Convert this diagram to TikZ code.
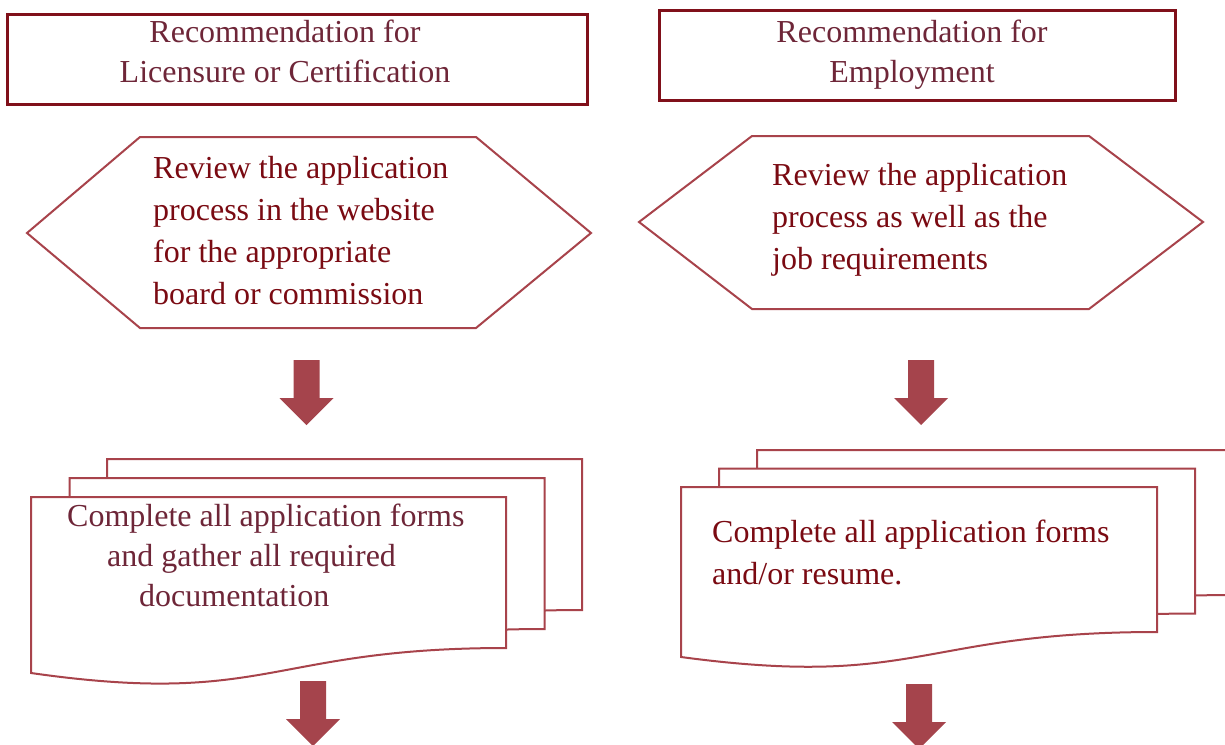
\documentclass[tikz,border=0pt]{standalone}
\usepackage{fontspec}
\setmainfont{Liberation Serif}
\definecolor{boxline}{RGB}{128,16,26}
\definecolor{toptext}{RGB}{110,38,56}
\definecolor{shapeline}{RGB}{168,67,75}
\definecolor{redtext}{RGB}{122,10,18}
\definecolor{arrowfill}{RGB}{165,68,76}
\tikzset{
  topbox/.style={draw=boxline, line width=3pt, fill=white, inner sep=0pt},
  txt/.style={inner sep=0pt, font=\fontsize{32}{42}\selectfont},
  toptxt/.style={txt, text=toptext, align=center, font=\fontsize{32}{40}\selectfont},
  hextxt/.style={txt, text=redtext, align=left},
  hexline/.style={draw=shapeline, line width=2pt, fill=white, line join=miter},
  sheet/.style={draw=shapeline, line width=2pt, fill=white},
  blockarrow/.style={fill=arrowfill},
  docL/.pic={\draw[sheet] (0,0) -- (475,0) -- (475,151) .. controls (237.5,151) and (237.5,210) .. (0,176) -- cycle;},
  docR/.pic={\draw[sheet] (0,0) -- (476,0) -- (476,145) .. controls (238,145) and (238,202) .. (0,170) -- cycle;},
  downarrow/.pic={\fill[blockarrow] (-13,0) -- (13,0) -- (13,38) -- (27,38) -- (0,65) -- (-27,38) -- (-13,38) -- cycle;}
}
\begin{document}
\begin{tikzpicture}[x=1pt,y=-1pt]
\useasboundingbox (0,0) rectangle (1225,744);
\fill[white] (0,0) rectangle (1225,744);

% top boxes (text nodes anchored at the baseline of their last line)
\node[topbox, minimum width=580pt, minimum height=90pt] (licbox) at (297,59) {};
\node[toptxt, anchor=base] (lictext) at (285,82) {Recommendation for\\Licensure or Certification};
\node[topbox, minimum width=516pt, minimum height=90pt] (empbox) at (917,55) {};
\node[toptxt, anchor=base] (emptext) at (912,82) {Recommendation for\\Employment};

% hexagons
\coordinate (hexL) at (309,233);
\draw[hexline] (27,233) -- (140,137) -- (476,137) -- (591,233) -- (476,328) -- (140,328) -- cycle;
\node[hextxt, anchor=base west] (hexLtext) at (153,304) {Review the application\\process in the website\\for the appropriate\\board or commission};
\coordinate (hexR) at (921,222);
\draw[hexline] (639,222) -- (752,136) -- (1089,136) -- (1203,222) -- (1089,309) -- (752,309) -- cycle;
\node[hextxt, anchor=base west] (hexRtext) at (772,269) {Review the application\\process as well as the\\job requirements};

% arrows
\pic at (306.5,360) {downarrow};
\pic at (921,360) {downarrow};

% documents left
\pic at (107,459) {docL};
\pic at (69.5,478) {docL};
\pic at (31,497) {docL};
\node[txt, text=toptext, align=left, anchor=base west, font=\fontsize{32}{40}\selectfont] (docLtext) at (67,606) {Complete all application forms\\\hspace*{40pt}and gather all required\\\hspace*{72pt}documentation};

% documents right
\pic at (757,450) {docR};
\pic at (719,468.5) {docR};
\pic at (681,487) {docR};
\node[hextxt, anchor=base west] (docRtext) at (712,584) {Complete all application forms\\and/or resume.};

% bottom arrows
\pic at (313,681) {downarrow};
\pic at (919,684) {downarrow};
\end{tikzpicture}
\end{document}
